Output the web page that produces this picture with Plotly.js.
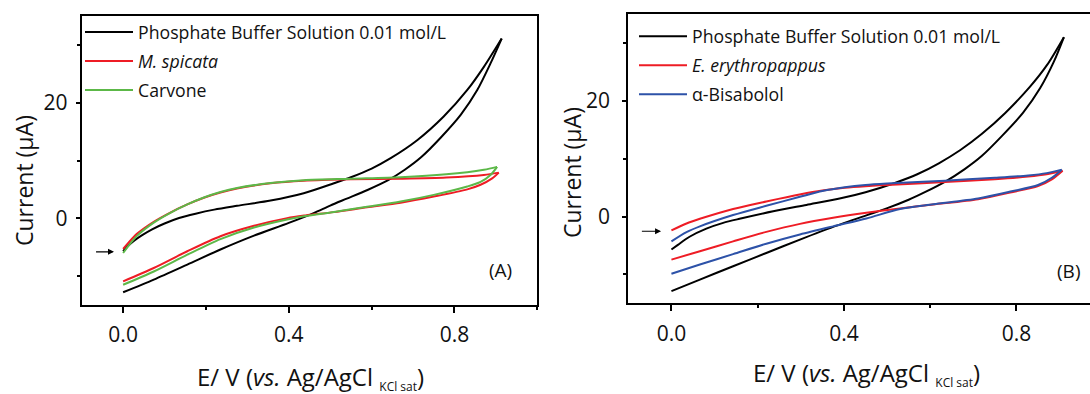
<!DOCTYPE html>
<html>
<head>
<meta charset="utf-8">
<script src="https://cdn.plot.ly/plotly-3.0.1.min.js"></script>
<style>
  html, body { margin: 0; padding: 0; background: #ffffff; }
  #chart { width: 1090px; height: 394px; }
</style>
</head>
<body>
<div id="chart"></div>
<script>
// ---------------- data (E in V, current in µA) ----------------
// Panel A: Phosphate buffer solution 0.01 mol/L
const pbsAFwdE = [0, 0.01, 0.025, 0.045, 0.07, 0.1, 0.135, 0.175, 0.22, 0.275, 0.356, 0.436, 0.509, 0.55, 0.60, 0.646, 0.71, 0.774, 0.831, 0.871, 0.914];
const pbsAFwdI = [-5.7, -4.9, -3.95, -2.95, -1.9, -0.9, 0.05, 0.8, 1.5, 2.16, 3.07, 4.34, 6.07, 7.1, 8.6, 10.4, 13.5, 17.6, 22.2, 26.2, 31.1];
const pbsARevE = [0.914, 0.887, 0.855, 0.815, 0.766, 0.72, 0.68, 0.64, 0.59, 0.54, 0.50, 0.46, 0.40, 0.316, 0.235, 0.155, 0.074, 0.0];
const pbsARevI = [31.1, 26.8, 22.2, 17.9, 13.9, 10.6, 8.4, 6.6, 4.9, 3.4, 2.2, 0.9, -0.8, -3.0, -5.4, -8.0, -10.6, -12.8];

// Panel A: M. spicata
const spicataFwdE = [0, 0.012, 0.034, 0.074, 0.114, 0.155, 0.195, 0.235, 0.275, 0.356, 0.436, 0.55, 0.67, 0.78, 0.871, 0.907];
const spicataFwdI = [-5.3, -4.3, -2.65, -0.6, 1.0, 2.4, 3.55, 4.45, 5.15, 6.05, 6.5, 6.75, 6.85, 7.05, 7.5, 7.9];
const spicataRevE = [0.907, 0.891, 0.863, 0.831, 0.75, 0.67, 0.589, 0.509, 0.44, 0.396, 0.316, 0.235, 0.155, 0.074, 0];
const spicataRevI = [7.9, 6.9, 5.8, 5.0, 3.76, 2.7, 1.9, 1.07, 0.5, 0.03, -1.3, -3.1, -5.7, -8.6, -10.9];

// Panel A: Carvone
const carvoneFwdE = [0, 0.012, 0.034, 0.074, 0.114, 0.155, 0.195, 0.235, 0.275, 0.356, 0.436, 0.55, 0.67, 0.78, 0.871, 0.903];
const carvoneFwdI = [-6.0, -4.85, -3.0, -0.75, 0.95, 2.4, 3.6, 4.55, 5.25, 6.1, 6.6, 6.85, 7.1, 7.6, 8.4, 8.9];
const carvoneRevE = [0.903, 0.887, 0.863, 0.831, 0.75, 0.67, 0.589, 0.509, 0.44, 0.396, 0.316, 0.235, 0.155, 0.074, 0];
const carvoneRevI = [8.9, 7.5, 6.3, 5.5, 4.05, 2.9, 2.0, 1.1, 0.4, -0.2, -1.6, -3.6, -6.3, -9.2, -11.5];

// Panel B: Phosphate buffer solution 0.01 mol/L
const pbsBFwdE = [0, 0.015, 0.042, 0.081, 0.12, 0.158, 0.236, 0.313, 0.39, 0.45, 0.518, 0.57, 0.62, 0.67, 0.72, 0.774, 0.831, 0.871, 0.91];
const pbsBFwdI = [-5.7, -4.9, -3.5, -2.1, -1.1, -0.4, 0.9, 2.0, 3.1, 4.2, 5.8, 7.3, 9.2, 11.5, 14.3, 17.9, 22.4, 26.2, 31.0];
const pbsBRevE = [0.91, 0.887, 0.855, 0.815, 0.766, 0.72, 0.68, 0.634, 0.59, 0.55, 0.499, 0.452, 0.375, 0.298, 0.22, 0.143, 0.066, 0];
const pbsBRevI = [31.0, 26.8, 22.2, 17.9, 13.9, 10.5, 8.2, 6.0, 4.3, 2.9, 1.4, 0.2, -1.8, -4.0, -6.3, -8.6, -10.9, -12.9];

// Panel B: E. erythropappus
const erythroFwdE = [0, 0.035, 0.066, 0.143, 0.22, 0.3, 0.35, 0.402, 0.45, 0.5, 0.634, 0.75, 0.827, 0.87, 0.907];
const erythroFwdI = [-2.4, -1.2, -0.4, 1.3, 2.6, 3.85, 4.5, 4.98, 5.25, 5.45, 5.95, 6.45, 6.9, 7.3, 7.9];
const erythroRevE = [0.907, 0.882, 0.85, 0.789, 0.711, 0.607, 0.53, 0.452, 0.375, 0.298, 0.22, 0.143, 0.066, 0];
const erythroRevI = [7.9, 6.4, 5.25, 4.2, 3.0, 2.08, 1.39, 0.64, -0.23, -1.27, -2.66, -4.3, -6.0, -7.45];

// Panel B: alpha-Bisabolol
const bisaFwdE = [0, 0.035, 0.066, 0.143, 0.22, 0.3, 0.35, 0.402, 0.45, 0.5, 0.634, 0.75, 0.827, 0.87, 0.905];
const bisaFwdI = [-4.3, -2.7, -1.7, 0.25, 1.85, 3.45, 4.4, 5.05, 5.45, 5.7, 6.2, 6.7, 7.1, 7.5, 8.1];
const bisaRevE = [0.905, 0.882, 0.85, 0.789, 0.711, 0.607, 0.53, 0.452, 0.375, 0.298, 0.22, 0.143, 0.066, 0];
const bisaRevI = [8.1, 6.7, 5.45, 4.35, 3.1, 2.1, 1.3, -0.35, -1.7, -3.1, -4.7, -6.5, -8.3, -9.9];

// names and ticks
const namePBS = 'Phosphate Buffer Solution 0.01 mol/L';
const nameA1 = '<i>M. spicata</i>';
const nameA2 = 'Carvone';
const nameB1 = '<i>E. erythropappus</i>';
const nameB2 = 'α-Bisabolol';
const xTickVals = [0, 0.4, 0.8];
const xTickText = ['0.0', '0.4', '0.8'];
const yTickVals = [0, 20];
const yTickText = ['0', '20'];

// ---------------- styling ----------------
const FONT = 'Open Sans, Noto Sans, sans-serif';
const TXT = '#111111';
const C_BLACK = '#000000', C_RED = '#ee1c25', C_GREEN = '#5cb848', C_BLUE = '#2d52a8';
const LW = 2;

function branch(x, y, color, name, xa, ya, leg, show) {
  return {
    type: 'scatter', mode: 'lines', x: x, y: y, xaxis: xa, yaxis: ya,
    name: name, legend: leg, showlegend: show, legendgroup: leg + name,
    line: { color: color, width: LW, shape: 'spline', smoothing: 0.8 },
    hoverinfo: 'skip'
  };
}

const traces = [
  branch(pbsAFwdE, pbsAFwdI, C_BLACK, namePBS, 'x', 'y', 'legend', true),
  branch(pbsARevE, pbsARevI, C_BLACK, namePBS, 'x', 'y', 'legend', false),
  branch(spicataFwdE, spicataFwdI, C_RED, nameA1, 'x', 'y', 'legend', true),
  branch(spicataRevE, spicataRevI, C_RED, nameA1, 'x', 'y', 'legend', false),
  branch(carvoneFwdE, carvoneFwdI, C_GREEN, nameA2, 'x', 'y', 'legend', true),
  branch(carvoneRevE, carvoneRevI, C_GREEN, nameA2, 'x', 'y', 'legend', false),
  branch(pbsBFwdE, pbsBFwdI, C_BLACK, namePBS, 'x2', 'y2', 'legend2', true),
  branch(pbsBRevE, pbsBRevI, C_BLACK, namePBS, 'x2', 'y2', 'legend2', false),
  branch(erythroFwdE, erythroFwdI, C_RED, nameB1, 'x2', 'y2', 'legend2', true),
  branch(erythroRevE, erythroRevI, C_RED, nameB1, 'x2', 'y2', 'legend2', false),
  branch(bisaFwdE, bisaFwdI, C_BLUE, nameB2, 'x2', 'y2', 'legend2', true),
  branch(bisaRevE, bisaRevI, C_BLUE, nameB2, 'x2', 'y2', 'legend2', false)
];

const W = 1090, H = 394;
const fx = v => v / W;          // pixel -> paper x
const fy = v => 1 - v / H;      // pixel -> paper y

function xAxis(domain, range, anchor, standoff) {
  return {
    domain: domain, range: range, anchor: anchor,
    tickmode: 'array', tickvals: xTickVals, ticktext: xTickText,
    ticks: 'outside', ticklen: 6, tickwidth: 2, tickcolor: '#000',
    minor: { tickmode: 'array', tickvals: [0.2, 0.6, 1.0], ticks: 'outside', ticklen: 3, tickwidth: 2, tickcolor: '#000' },
    showline: true, linewidth: 2, linecolor: '#000', mirror: true,
    showgrid: false, zeroline: false,
    ticklabelstandoff: standoff,
    tickfont: { family: FONT, size: 21, color: TXT }
  };
}
function yAxis(domain, anchor, mirror, standoff) {
  return {
    domain: domain, range: [-15, 35], anchor: anchor,
    tickmode: 'array', tickvals: yTickVals, ticktext: yTickText,
    ticks: 'outside', ticklen: 4, tickwidth: 2, tickcolor: '#000',
    minor: { tickmode: 'array', tickvals: [-10, 10, 30], ticks: 'outside', ticklen: 3, tickwidth: 2, tickcolor: '#000' },
    showline: true, linewidth: 2, linecolor: '#000', mirror: mirror,
    showgrid: false, zeroline: false,
    ticklabelstandoff: standoff,
    tickfont: { family: FONT, size: 21, color: TXT }
  };
}

const legendBase = {
  xanchor: 'left', yanchor: 'top', bgcolor: 'rgba(0,0,0,0)', borderwidth: 0,
  font: { family: FONT, size: 17.7, color: TXT },
  itemwidth: 48, tracegroupgap: 3, traceorder: 'grouped', itemclick: false, itemdoubleclick: false
};

const xTitle = 'E/ V (<i>vs.</i> Ag/AgCl <sub><span style="font-size:12px">KCl sat</span></sub>)';

const layout = {
  width: W, height: H,
  margin: { l: 0, r: 0, t: 0, b: 0, pad: 0 },
  paper_bgcolor: '#ffffff', plot_bgcolor: '#ffffff',
  font: { family: FONT, color: TXT },
  xaxis: xAxis([fx(81.7), fx(537.3)], [-0.1, 1.0], 'y', 4),
  yaxis: yAxis([fy(305), fy(16)], 'x', true, 4),
  xaxis2: xAxis([fx(628.3), 1], [-0.1, 0.9705], 'y2', 4),
  yaxis2: yAxis([fy(303.3), fy(14)], 'x2', false, 8),
  legend: Object.assign({}, legendBase, { x: fx(80), y: fy(14) }),
  legend2: Object.assign({}, legendBase, { x: fx(634), y: fy(18.3) }),
  showlegend: true,
  annotations: [
    { xref: 'paper', yref: 'paper', x: fx(24), y: fy(181), text: 'Current (µA)', textangle: -90,
      showarrow: false, xanchor: 'center', yanchor: 'middle', font: { family: FONT, size: 23, color: TXT } },
    { xref: 'paper', yref: 'paper', x: fx(572), y: fy(173), text: 'Current (µA)', textangle: -90,
      showarrow: false, xanchor: 'center', yanchor: 'middle', font: { family: FONT, size: 23, color: TXT } },
    { xref: 'paper', yref: 'paper', x: fx(310), y: fy(377), text: xTitle,
      showarrow: false, xanchor: 'center', yanchor: 'middle', font: { family: FONT, size: 24, color: TXT } },
    { xref: 'paper', yref: 'paper', x: fx(866), y: fy(373), text: xTitle,
      showarrow: false, xanchor: 'center', yanchor: 'middle', font: { family: FONT, size: 24, color: TXT } },
    { xref: 'paper', yref: 'paper', x: fx(500), y: fy(270), text: '(A)',
      showarrow: false, xanchor: 'center', yanchor: 'middle', font: { family: FONT, size: 19, color: TXT } },
    { xref: 'paper', yref: 'paper', x: fx(1068), y: fy(271), text: '(B)',
      showarrow: false, xanchor: 'center', yanchor: 'middle', font: { family: FONT, size: 19, color: TXT } },
    { xref: 'x', yref: 'y', axref: 'x', ayref: 'y', x: -0.022, y: -5.8, ax: -0.069, ay: -5.8, text: '',
      showarrow: true, arrowhead: 2, arrowsize: 1, arrowwidth: 1.2, arrowcolor: '#000' },
    { xref: 'x2', yref: 'y2', axref: 'x2', ayref: 'y2', x: -0.024, y: -2.55, ax: -0.072, ay: -2.55, text: '',
      showarrow: true, arrowhead: 2, arrowsize: 1, arrowwidth: 1.2, arrowcolor: '#000' }
  ]
};

Plotly.newPlot('chart', traces, layout, { staticPlot: true, displayModeBar: false });
</script>
</body>
</html>
